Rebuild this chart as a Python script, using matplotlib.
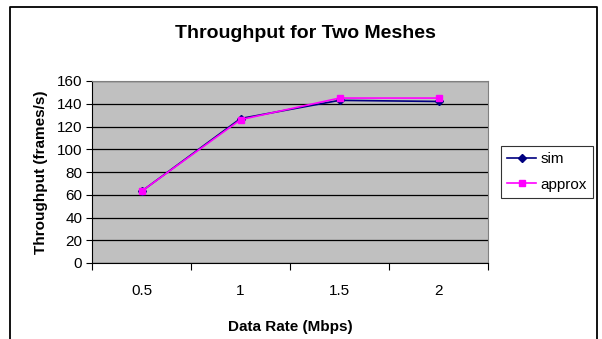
import numpy as np
import matplotlib.pyplot as plt
from matplotlib.lines import Line2D

plt.rcParams['font.family'] = ['Liberation Sans', 'DejaVu Sans']

# data
rates = ["0.5", "1", "1.5", "2"]
sim = [63, 127, 143, 142]
approx = [63, 126, 145, 145]

W, H = 602, 339
fig = plt.figure(figsize=(W / 100, H / 100), dpi=100)

# plot area in pixels: left 92, right 488, top 81, bottom 263
ax = fig.add_axes([92 / W, 1 - 263 / H, (488 - 92) / W, (263 - 81) / H])
ax.set_facecolor('#C0C0C0')

x = np.arange(len(rates)) + 0.5
ax.plot(x, sim, color='#000080', marker='D', markersize=4.5, lw=1.2, label='sim', zorder=3)
ax.plot(x, approx, color='#FF00FF', marker='s', markersize=5, lw=1.2, label='approx', zorder=4)

ax.set_xlim(0, len(rates))
ax.set_ylim(0, 160)
ax.set_yticks(np.arange(0, 161, 20))
ax.yaxis.grid(True, color='black', lw=0.9)
ax.set_axisbelow(True)

ax.set_xticks(np.arange(len(rates) + 1))
ax.set_xticklabels([])
ax.set_xticks(x, minor=True)
ax.set_xticklabels(rates, minor=True)
ax.tick_params(axis='x', which='minor', length=0, pad=15, labelsize=11)
ax.tick_params(axis='x', which='major', length=5, color='black')
ax.tick_params(axis='y', length=4, labelsize=11, pad=3)

for s in ['top', 'right']:
    ax.spines[s].set_color('#808080')
for s in ['left', 'bottom']:
    ax.spines[s].set_color('black')

ax.set_xlabel('Data Rate (Mbps)', fontsize=11, fontweight='bold', labelpad=16)
ax.set_ylabel('Throughput (frames/s)', fontsize=11, fontweight='bold', labelpad=6)

fig.text(305 / W, 1 - 33 / H, 'Throughput for Two Meshes', ha='center', va='center',
         fontsize=14, fontweight='bold')

leg = ax.legend(loc='center left', bbox_to_anchor=(501 / W, 1 - 172 / H),
                bbox_transform=fig.transFigure, fontsize=11, frameon=True,
                fancybox=False, edgecolor='black', borderpad=0.4,
                handlelength=1.9, handletextpad=0.3, labelspacing=0.75,
                borderaxespad=0)
leg.get_frame().set_linewidth(0.8)

# outer chart border
fx = [10 / W, 10 / W, 597 / W, 597 / W]
fy = [-0.1, 1 - 7 / H, 1 - 7 / H, -0.1]
fig.add_artist(Line2D(fx, fy, color='black', lw=1.3, transform=fig.transFigure))

fig.savefig('out.png', dpi=100)
